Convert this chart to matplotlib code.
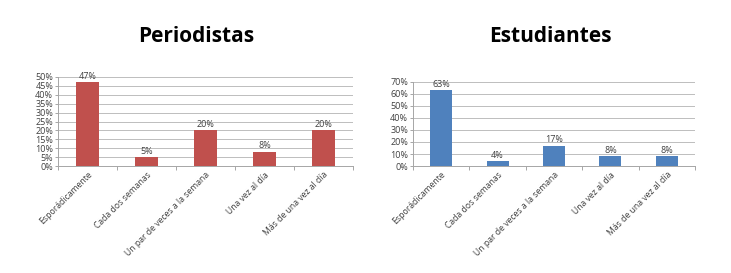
import matplotlib
matplotlib.use("Agg")
import matplotlib.pyplot as plt
from matplotlib.ticker import MultipleLocator, FuncFormatter, FixedLocator

categories = ["Esporádicamente", "Cada dos semanas", "Un par de veces a la semana",
              "Una vez al día", "Más de una vez al día"]
periodistas = [47, 5, 20, 8, 20]
estudiantes = [63, 4, 17, 8, 8]
titles = ["Periodistas", "Estudiantes"]

plt.rcParams['font.family'] = ['Open Sans', 'DejaVu Sans']

fig = plt.figure(figsize=(7.31, 2.73), dpi=100)

def draw(ax, vals, color, ymax, step, title, title_x):
    x = range(len(categories))
    ax.bar(x, vals, width=0.39, color=color, zorder=3)
    ax.set_xlim(-0.5, len(categories) - 0.5)
    ax.set_ylim(0, ymax)
    ax.yaxis.set_major_locator(MultipleLocator(step))
    ax.yaxis.set_major_formatter(FuncFormatter(lambda v, p: f"{int(round(v))}%"))
    ax.grid(axis='y', color='#BDBDBD', linewidth=0.7, zorder=0)
    for s in ['top', 'right']:
        ax.spines[s].set_visible(False)
    for s in ['left', 'bottom']:
        ax.spines[s].set_color('#A6A6A6')
        ax.spines[s].set_linewidth(0.7)
    ax.set_xticks(list(x))
    ax.set_xticklabels(categories, rotation=45, ha='right', rotation_mode='anchor',
                       fontsize=6.2, color='#404040')
    ax.tick_params(axis='x', length=0, pad=3)
    ax.xaxis.set_minor_locator(FixedLocator([i + 0.5 for i in range(-1, len(categories))]))
    ax.tick_params(axis='x', which='minor', length=3, color='#A6A6A6', width=0.7)
    ax.tick_params(axis='y', labelsize=6.5, labelcolor='#404040', length=2,
                   color='#A6A6A6', width=0.7, pad=1.5)
    for i, v in enumerate(vals):
        ax.text(i, v + ymax * 0.015, f"{v}%", ha='center', va='bottom',
                fontsize=6.5, color='#404040')
    fig.text(title_x, 1 - 37 / 273, title, ha='center', va='center',
             fontsize=15, fontweight='bold', color='black')

ax1 = fig.add_axes([58 / 731, 1 - 166 / 273, 295 / 731, 89 / 273])
draw(ax1, periodistas, '#C0504D', 50, 5, titles[0], 196 / 731)

ax2 = fig.add_axes([413 / 731, 1 - 166 / 273, 282 / 731, 84 / 273])
draw(ax2, estudiantes, '#4F81BD', 70, 10, titles[1], 550 / 731)

fig.savefig("out.png", dpi=100)
